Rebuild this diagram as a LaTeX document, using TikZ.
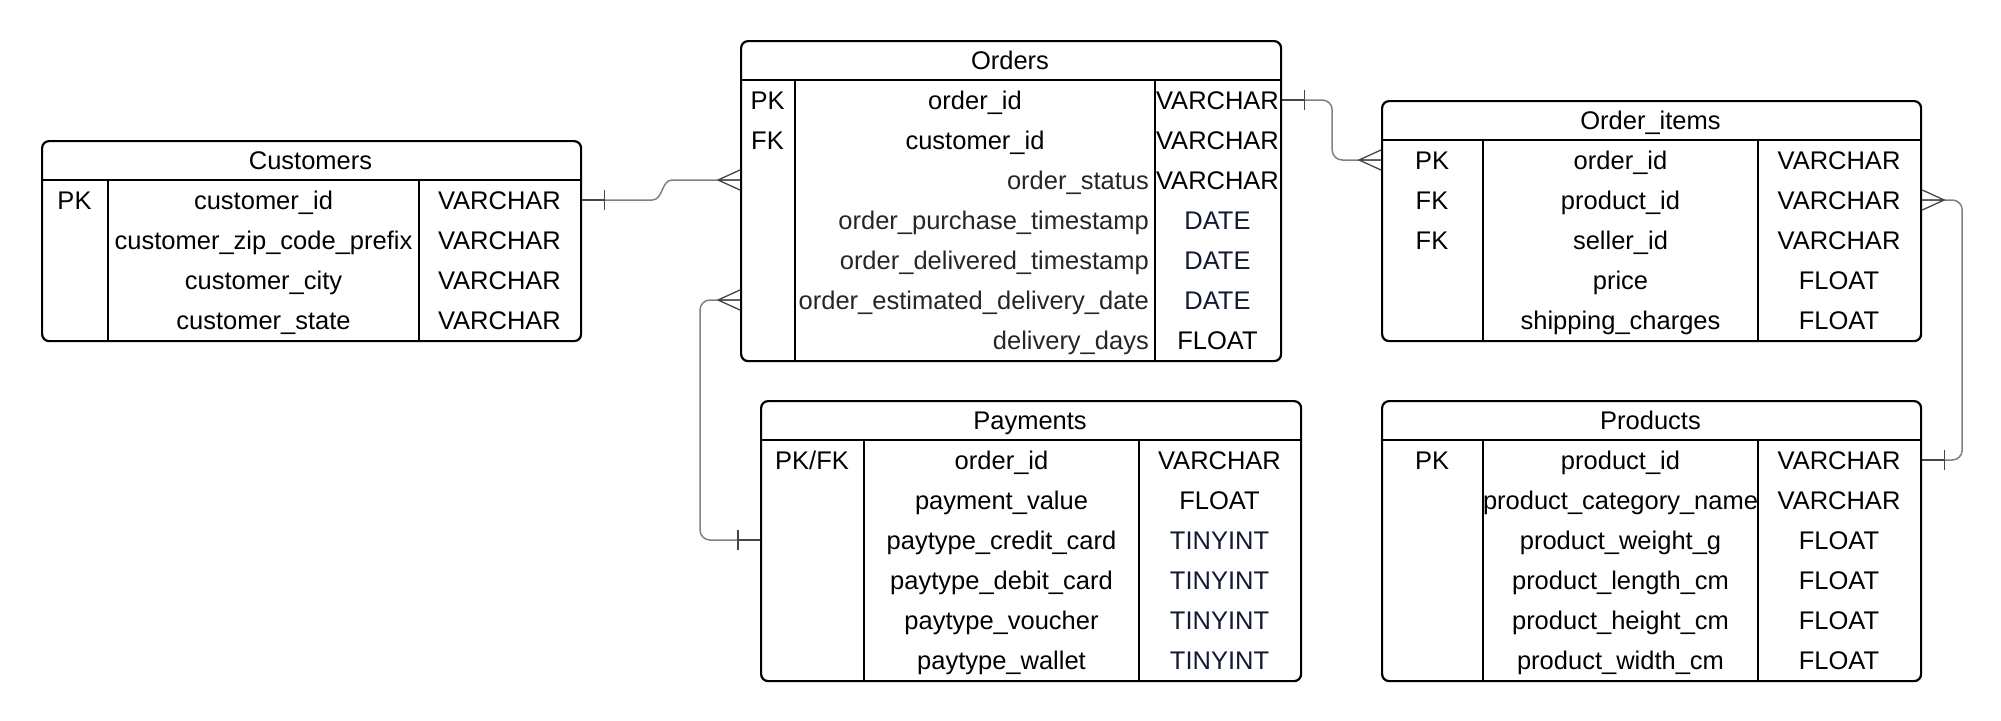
\documentclass[tikz,border=0pt]{standalone}
\usepackage{fontspec}
\setmainfont{Liberation Sans}
\usetikzlibrary{calc}
\definecolor{navy}{RGB}{20,26,52}
\definecolor{dgray}{RGB}{38,38,38}
\definecolor{relc}{RGB}{128,128,128}
\definecolor{markc}{RGB}{70,70,70}
\tikzset{
 tblbox/.style={draw=black, line width=2.2pt, rounded corners=7pt, fill=white, inner sep=0pt, anchor=north west},
 tblline/.style={draw=black, line width=2pt},
 txt/.style={inner sep=0pt, font=\fontsize{25.5}{30}\selectfont, text=black},
 rel/.style={draw=relc, line width=1.5pt},
 mk/.style={draw=markc, line width=1.3pt},
}
\newcommand\ertable[8]{%
 \node[tblbox, minimum width={(#4-#2)*1pt}, minimum height={(#5-#3)*1pt}] (#1) at (#2,#3) {};
 \draw[tblline] (#2,#3+40) -- (#4,#3+40);
 \draw[tblline] (#6,#3+40) -- (#6,#5);
 \draw[tblline] (#7,#3+40) -- (#7,#5);
 \node[txt, anchor=base] (#1-title) at ({(#2+#4)/2},#3+29) {#8};
 \gdef\Ta{#2}\gdef\Tb{#6}\gdef\Tc{#7}\gdef\Td{#4}\gdef\Ty{#3}\gdef\Tn{#1}%
}
% i, key, name, type, mode (c/r), type colour
\newcommand\errow[6]{%
 \pgfmathsetmacro\Rc{\Ty+40+40*(#1-1)+20}%
 \pgfmathsetmacro\Ry{\Rc+9}%
 \coordinate (\Tn-r#1) at (\Ta,\Rc);
 \if\relax\detokenize{#2}\relax\else
  \node[txt, anchor=base] (\Tn-r#1-k) at ({(\Ta+\Tb)/2},\Ry) {#2};
 \fi
 \if r#5
  \node[txt, anchor=base east, text=dgray] (\Tn-r#1-n) at ({\Tc-6},\Ry) {#3};
 \else
  \node[txt, anchor=base] (\Tn-r#1-n) at ({(\Tb+\Tc)/2},\Ry) {#3};
 \fi
 \node[txt, anchor=base, text=#6] (\Tn-r#1-t) at ({(\Tc+\Td)/2},\Ry) {#4};
}
\newcommand\mkbarR[1]{\draw[mk] (#1) -- ++(22,0) ++(0,-10) -- ++(0,20);}
\newcommand\mkbarL[1]{\draw[mk] (#1) -- ++(-22,0) ++(0,-10) -- ++(0,20);}
\newcommand\mkcrowL[1]{\draw[mk] ($(#1)+(0,-10)$) -- ($(#1)+(-22,0)$) -- ($(#1)+(0,10)$) ($(#1)+(-22,0)$) -- (#1);}
\newcommand\mkcrowR[1]{\draw[mk] ($(#1)+(0,-10)$) -- ($(#1)+(22,0)$) -- ($(#1)+(0,10)$) ($(#1)+(22,0)$) -- (#1);}
\begin{document}
\begin{tikzpicture}[x=1pt,y=-1pt]
\useasboundingbox[fill=white] (0,0) rectangle (2001,720);

% Customers
\ertable{cust}{41}{140}{580}{340}{108}{419}{Customers}
\errow{1}{PK}{customer\_id}{VARCHAR}{c}{black}
\errow{2}{}{customer\_zip\_code\_prefix}{VARCHAR}{c}{black}
\errow{3}{}{customer\_city}{VARCHAR}{c}{black}
\errow{4}{}{customer\_state}{VARCHAR}{c}{black}

% Orders
\ertable{ord}{740}{40}{1280}{360}{795}{1155}{Orders}
\errow{1}{PK}{order\_id}{VARCHAR}{c}{black}
\errow{2}{FK}{customer\_id}{VARCHAR}{c}{black}
\errow{3}{}{order\_status}{VARCHAR}{r}{black}
\errow{4}{}{order\_purchase\_timestamp}{DATE}{r}{navy}
\errow{5}{}{order\_delivered\_timestamp}{DATE}{r}{navy}
\errow{6}{}{order\_estimated\_delivery\_date}{DATE}{r}{navy}
\errow{7}{}{delivery\_days}{FLOAT}{r}{black}

% Order_items
\ertable{oi}{1381}{100}{1920}{340}{1483}{1758}{Order\_items}
\errow{1}{PK}{order\_id}{VARCHAR}{c}{black}
\errow{2}{FK}{product\_id}{VARCHAR}{c}{black}
\errow{3}{FK}{seller\_id}{VARCHAR}{c}{black}
\errow{4}{}{price}{FLOAT}{c}{black}
\errow{5}{}{shipping\_charges}{FLOAT}{c}{black}

% Payments
\ertable{pay}{760}{400}{1300}{680}{864}{1139}{Payments}
\errow{1}{PK/FK}{order\_id}{VARCHAR}{c}{black}
\errow{2}{}{payment\_value}{FLOAT}{c}{black}
\errow{3}{}{paytype\_credit\_card}{TINYINT}{c}{navy}
\errow{4}{}{paytype\_debit\_card}{TINYINT}{c}{navy}
\errow{5}{}{paytype\_voucher}{TINYINT}{c}{navy}
\errow{6}{}{paytype\_wallet}{TINYINT}{c}{navy}

% Products
\ertable{prod}{1381}{400}{1920}{680}{1483}{1758}{Products}
\errow{1}{PK}{product\_id}{VARCHAR}{c}{black}
\errow{2}{}{product\_category\_name}{VARCHAR}{c}{black}
\errow{3}{}{product\_weight\_g}{FLOAT}{c}{black}
\errow{4}{}{product\_length\_cm}{FLOAT}{c}{black}
\errow{5}{}{product\_height\_cm}{FLOAT}{c}{black}
\errow{6}{}{product\_width\_cm}{FLOAT}{c}{black}

% Relationship end points
\coordinate (e1a) at (cust.east |- cust-r1);
\coordinate (e1b) at (ord.west |- ord-r3);
\coordinate (e2a) at (ord.west |- ord-r6);
\coordinate (e2b) at (pay.west |- pay-r3);
\coordinate (e3a) at (ord.east |- ord-r1);
\coordinate (e3b) at (oi.west |- oi-r1);
\coordinate (e4a) at (oi.east |- oi-r2);
\coordinate (e4b) at (prod.east |- prod-r1);

% Customers -> Orders
\draw[rel] (e1a) -- ++(70,0) to[out=0,in=180] ++(20,-20) -- (e1b);
\mkbarR{e1a}
\mkcrowL{e1b}
% Orders -> Payments
\draw[rel, rounded corners=10pt] (e2a) -- ++(-40,0) |- (e2b);
\mkcrowL{e2a}
\mkbarL{e2b}
% Orders -> Order_items
\draw[rel, rounded corners=10pt] (e3a) -- ++(50,0) |- (e3b);
\mkbarR{e3a}
\mkcrowL{e3b}
% Order_items -> Products
\draw[rel, rounded corners=10pt] (e4a) -- ++(40,0) |- (e4b);
\mkcrowR{e4a}
\mkbarR{e4b}
\end{tikzpicture}
\end{document}
